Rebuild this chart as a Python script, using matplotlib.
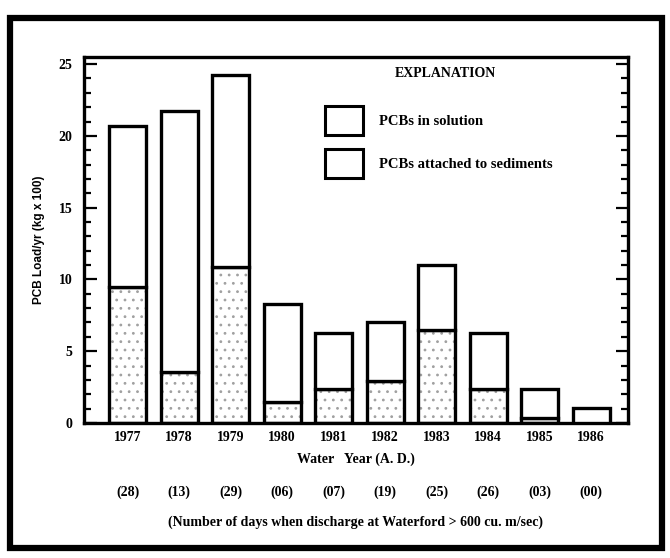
import matplotlib
matplotlib.use("Agg")
import matplotlib.pyplot as plt
from matplotlib.patches import Rectangle, Patch
from matplotlib.ticker import MultipleLocator
import numpy as np

years = ["1977", "1978", "1979", "1980", "1981", "1982", "1983", "1984", "1985", "1986"]
solution = [9.5, 3.55, 10.85, 1.45, 2.4, 2.9, 6.45, 2.4, 0.35, 0.0]
total = [20.7, 21.7, 24.25, 8.3, 6.3, 7.05, 11.0, 6.25, 2.4, 1.05]
sediments = [t - s for t, s in zip(total, solution)]
days = ["(28)", "(13)", "(29)", "(06)", "(07)", "(19)", "(25)", "(26)", "(03)", "(00)"]

serif = ["Liberation Serif", "DejaVu Serif"]
sans = ["Liberation Sans", "DejaVu Sans"]

fig = plt.figure(figsize=(6.7, 5.58), dpi=100)
ax = fig.add_axes([0.125, 0.242, 0.812, 0.656])

x = np.arange(len(years))
w = 0.72
plt.rcParams['hatch.linewidth'] = 0.8
# stippled lower part (solution)
ax.bar(x, solution, width=w, color="white", edgecolor="#a0a0a0", hatch="..", linewidth=0, zorder=2)
ax.bar(x, solution, width=w, fill=False, edgecolor="black", linewidth=2.4, zorder=3)
ax.bar(x, sediments, bottom=solution, width=w, color="white", edgecolor="black", linewidth=2.4, zorder=3)

ax.set_xlim(-0.854, 9.71)
ax.set_ylim(0, 25.5)
ax.yaxis.set_major_locator(MultipleLocator(5))
ax.yaxis.set_minor_locator(MultipleLocator(1))
ax.tick_params(axis="y", which="both", direction="in", left=True, right=True, width=1.6)
ax.tick_params(axis="y", which="major", length=9, pad=8)
ax.tick_params(axis="y", which="minor", length=5)
ax.set_xticks(x)
ax.set_xticklabels(years, fontfamily=serif, fontweight="bold", fontsize=10)
ax.tick_params(axis="x", length=0, pad=6)
for lab in ax.get_yticklabels():
    lab.set_fontfamily(serif)
    lab.set_fontweight("bold")
    lab.set_fontsize(10)
for sp in ax.spines.values():
    sp.set_linewidth(2.4)

ax.set_ylabel("PCB Load/yr (kg x 100)", fontfamily=sans, fontweight="bold", fontsize=8.5, labelpad=10)
ax.set_xlabel("Water   Year (A. D.)", fontfamily=serif, fontweight="bold", fontsize=10, labelpad=6)

trans = ax.get_xaxis_transform()
for xi, d in zip(x, days):
    ax.text(xi, -0.19, d, transform=trans, ha="center", va="center",
            fontfamily=serif, fontweight="bold", fontsize=10)
ax.text(0.5, -0.27, "(Number of days when discharge at Waterford > 600 cu. m/sec)",
        transform=ax.transAxes, ha="center", va="center",
        fontfamily=serif, fontweight="bold", fontsize=10)

ax.text(0.664, 0.955, "EXPLANATION", transform=ax.transAxes, ha="center", va="center",
        fontfamily=serif, fontweight="bold", fontsize=10)
handles = [Patch(facecolor="white", edgecolor="black", linewidth=2.2),
           Patch(facecolor="white", edgecolor="black", linewidth=2.2)]
leg = ax.legend(handles, ["PCBs in solution", "PCBs attached to sediments"],
                loc="upper left", bbox_to_anchor=(0.43, 0.887), frameon=False,
                borderpad=0, handlelength=2.6, handleheight=2.7, handletextpad=1.1,
                labelspacing=0.95, prop={"family": serif, "weight": "bold", "size": 10.5})

fig.patches.append(Rectangle((0.015, 0.018), 0.973, 0.95, transform=fig.transFigure,
                             fill=False, edgecolor="black", linewidth=4.5))

fig.savefig("out.png", dpi=100)
